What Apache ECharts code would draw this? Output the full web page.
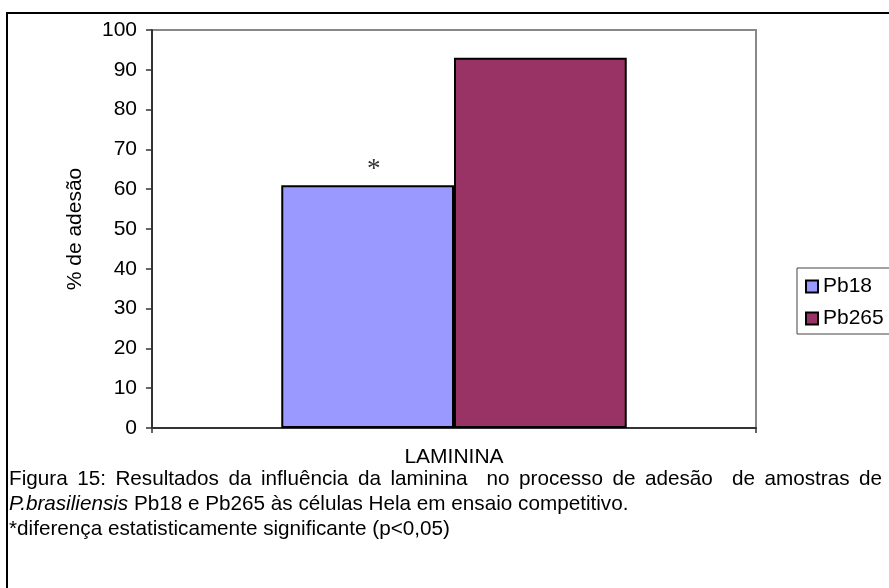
<!DOCTYPE html>
<html>
<head>
<meta charset="utf-8">
<script src="https://cdn.jsdelivr.net/npm/echarts@6/dist/echarts.min.js"></script>
<style>
  html, body { margin: 0; padding: 0; background: #fff; }
  #chart { width: 889px; height: 588px; }
</style>
</head>
<body>
<div id="chart"></div>
<script>
// Adhesion (%) of P. brasiliensis isolates to HeLa cells in the presence of laminin
const categories = ['LAMININA'];
const seriesNames = ['Pb18', 'Pb265'];
const pb18Values = [61];
const pb265Values = [93];
const pb18Marks = ['*'];          // significance marker above the Pb18 bar
const yMin = 0;
const yMax = 100;
const yStep = 10;
const yAxisTitle = '% de adesão';

// Figure caption, one entry per printed line
const captionLine1 = 'Figura 15: Resultados da influência da laminina  no processo de adesão  de amostras de';
const captionLine2Italic = 'P.brasiliensis';
const captionLine2Rest = ' Pb18 e Pb265 às células Hela em ensaio competitivo.';
const captionLine3 = '*diferença estatisticamente significante (p<0,05)';

const SANS = "'Liberation Sans', Arial, sans-serif";
const FS = 21;        // axis and legend text
const CAP_FS = 20.7;  // caption text

// Justify the first caption line across the full text width
const measureCtx = document.createElement('canvas').getContext('2d');
measureCtx.font = CAP_FS + "px 'Liberation Sans', Arial, sans-serif";
function justifiedLine(text, x0, x1, y) {
  const tokens = text.split(' ');
  const widths = tokens.map(t => measureCtx.measureText(t).width);
  const total = widths.reduce((a, b) => a + b, 0);
  const gap = (x1 - x0 - total) / (tokens.length - 1);
  const out = [];
  let cx = x0;
  tokens.forEach((t, i) => {
    if (t.length) {
      out.push({
        type: 'text', x: cx, y: y,
        style: { text: t, fontSize: CAP_FS, fontFamily: SANS, fill: '#000', verticalAlign: 'middle' }
      });
    }
    cx += widths[i] + gap;
  });
  return out;
}

const captionElements = justifiedLine(captionLine1, 9, 882, 479).concat([
  {
    type: 'text', x: 9, y: 504,
    style: {
      text: '{i|' + captionLine2Italic + '}' + captionLine2Rest,
      fontSize: CAP_FS, fontFamily: SANS, fill: '#000', verticalAlign: 'middle',
      rich: { i: { fontStyle: 'italic', fontSize: CAP_FS, fontFamily: SANS, fill: '#000' } }
    }
  },
  {
    type: 'text', x: 9, y: 529,
    style: { text: captionLine3, fontSize: CAP_FS, fontFamily: SANS, fill: '#000', verticalAlign: 'middle' }
  }
]);

const chart = echarts.init(document.getElementById('chart'), null, { renderer: 'canvas' });

chart.setOption({
  backgroundColor: '#fff',
  animation: false,
  textStyle: { fontFamily: SANS },
  grid: {
    left: 152, right: 133, top: 30, bottom: 160,
    show: true, borderColor: '#888', borderWidth: 2, backgroundColor: '#fff'
  },
  legend: {
    orient: 'vertical',
    left: 797, top: 268,
    data: seriesNames,
    icon: 'rect',
    itemWidth: 12, itemHeight: 12, itemGap: 11, itemTextGap: 6,
    textStyle: { fontSize: FS, fontFamily: SANS, color: '#000' },
    borderColor: '#444', borderWidth: 1,
    padding: [8, 20, 5, 8],
    backgroundColor: '#fff'
  },
  xAxis: {
    type: 'category',
    data: categories,
    axisLine: { lineStyle: { color: '#333', width: 2 } },
    axisTick: { show: true, length: 5, lineStyle: { color: '#333', width: 1.5 } },
    axisLabel: { margin: 19, fontSize: FS, fontFamily: SANS, color: '#000' }
  },
  yAxis: {
    type: 'value',
    min: yMin, max: yMax, interval: yStep,
    name: yAxisTitle,
    nameLocation: 'middle',
    nameGap: 66,
    nameRotate: 90,
    nameTextStyle: { fontSize: FS, fontFamily: SANS, color: '#000' },
    axisLine: { show: true, lineStyle: { color: '#333', width: 2 } },
    axisTick: { show: true, length: 6, lineStyle: { color: '#333', width: 1.5 } },
    splitLine: { show: false },
    axisLabel: { margin: 15, fontSize: FS, fontFamily: SANS, color: '#000' }
  },
  series: [
    {
      name: seriesNames[0],
      type: 'bar',
      data: pb18Values,
      barGap: '0%',
      barCategoryGap: '42.8%',
      itemStyle: { color: '#9999FF', borderColor: '#000', borderWidth: 2 },
      label: {
        show: true, position: 'top', distance: 2, offset: [6, 0],
        formatter: p => pb18Marks[p.dataIndex],
        fontFamily: "'Liberation Serif', 'Times New Roman', serif",
        fontSize: 27, color: '#333'
      }
    },
    {
      name: seriesNames[1],
      type: 'bar',
      data: pb265Values,
      barGap: '0%',
      barCategoryGap: '42.8%',
      itemStyle: { color: '#993366', borderColor: '#000', borderWidth: 2 }
    }
  ],
  graphic: [
    {
      type: 'rect', z: 100, silent: true,
      shape: { x: 7, y: 13, width: 960, height: 660 },
      style: { fill: 'none', stroke: '#000', lineWidth: 2 }
    }
  ].concat(captionElements)
});
</script>
</body>
</html>
